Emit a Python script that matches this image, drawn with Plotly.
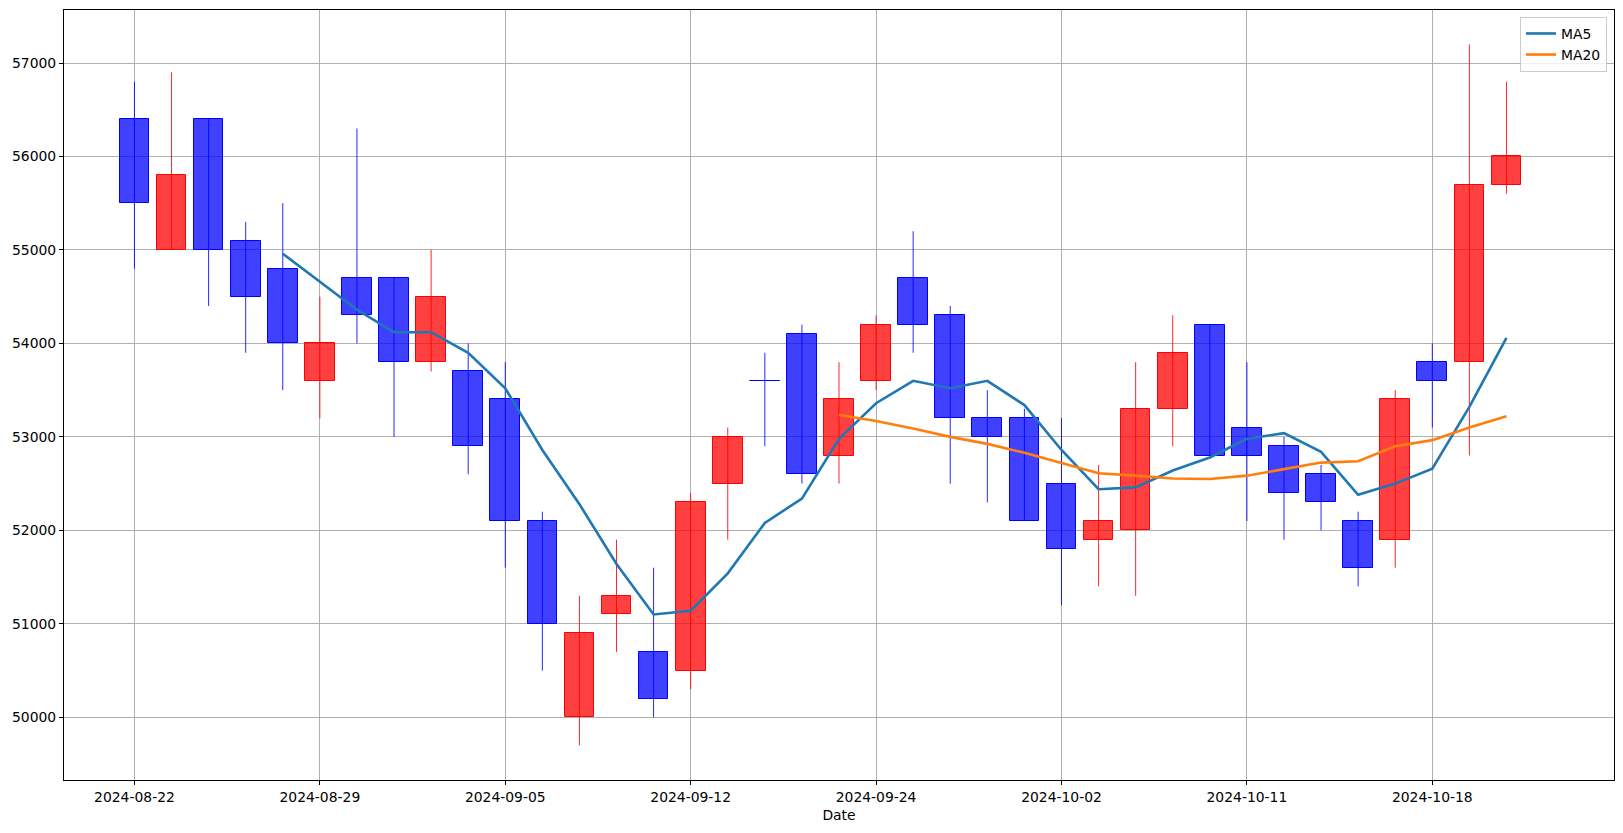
import plotly.graph_objects as go
import pandas as pd

dates = ["2024-08-22", "2024-08-23", "2024-08-26", "2024-08-27", "2024-08-28",
         "2024-08-29", "2024-08-30", "2024-09-02", "2024-09-03", "2024-09-04",
         "2024-09-05", "2024-09-06", "2024-09-09", "2024-09-10", "2024-09-11",
         "2024-09-12", "2024-09-13", "2024-09-19", "2024-09-20", "2024-09-23",
         "2024-09-24", "2024-09-25", "2024-09-26", "2024-09-27", "2024-09-30",
         "2024-10-02", "2024-10-04", "2024-10-07", "2024-10-08", "2024-10-10",
         "2024-10-11", "2024-10-14", "2024-10-15", "2024-10-16", "2024-10-17",
         "2024-10-18", "2024-10-21", "2024-10-22"]
opens = [56400, 55000, 56400, 55100, 54800, 53600, 54700, 54700, 53800, 53700,
         53400, 52100, 50000, 51100, 50700, 50500, 52500, 53600, 54100, 52800,
         53600, 54700, 54300, 53200, 53200, 52500, 51900, 52000, 53300, 54200,
         53100, 52900, 52600, 52100, 51900, 53800, 53800, 55700]
highs = [56800, 56900, 56400, 55300, 55500, 54500, 56300, 54700, 55000, 54000,
         53800, 52200, 51300, 51900, 51600, 52400, 53100, 53900, 54200, 53800,
         54300, 55200, 54400, 53500, 53300, 53200, 52700, 53800, 54300, 54200,
         53800, 53000, 52700, 52200, 53500, 54000, 57200, 56800]
lows = [54800, 55000, 54400, 53900, 53500, 53200, 54000, 53000, 53700, 52600,
        51600, 50500, 49700, 50700, 50000, 50300, 51900, 52900, 52500, 52500,
        53500, 53900, 52500, 52300, 52100, 51200, 51400, 51300, 52900, 52800,
        52100, 51900, 52000, 51400, 51600, 53100, 52800, 55600]
closes = [55500, 55800, 55000, 54500, 54000, 54000, 54300, 53800, 54500, 52900,
          52100, 51000, 50900, 51300, 50200, 52300, 53000, 53600, 52600, 53400,
          54200, 54200, 53200, 53000, 52100, 51800, 52100, 53300, 53900, 52800,
          52800, 52400, 52300, 51600, 53400, 53600, 55700, 56000]
x_ticks = dates[::5]

df = pd.DataFrame({"date": dates, "open": opens, "high": highs, "low": lows, "close": closes})
df["ma5"] = df["close"].rolling(5).mean()
df["ma20"] = df["close"].rolling(20).mean()

up = df[df["close"] > df["open"]]
down = df[df["close"] <= df["open"]]

fig = go.Figure()

def add_candles(d, fill, edge, wick):
    fig.add_trace(go.Bar(
        x=d["date"], y=(d["close"] - d["open"]).abs(), base=d[["open", "close"]].min(axis=1),
        width=0.8, marker=dict(color=fill, line=dict(color=edge, width=1)),
        showlegend=False, hoverinfo="skip"))

def add_wicks(d, wick):
    xs, ys = [], []
    for _, r in d.iterrows():
        xs += [r["date"], r["date"], None]
        ys += [r["low"], r["high"], None]
    fig.add_trace(go.Scatter(x=xs, y=ys, mode="lines", line=dict(color=wick, width=1),
                             showlegend=False, hoverinfo="skip", connectgaps=False))

add_candles(up, "rgba(255,0,0,0.75)", "rgb(255,0,0)", None)
add_candles(down, "rgba(0,0,255,0.75)", "rgb(0,0,255)", None)
add_wicks(up, "rgba(255,0,0,0.85)")
add_wicks(down, "rgba(0,0,255,0.85)")

fig.add_trace(go.Scatter(x=df["date"], y=df["ma5"], mode="lines", name="MA5",
                         line=dict(color="#1f77b4", width=2.6)))
fig.add_trace(go.Scatter(x=df["date"], y=df["ma20"], mode="lines", name="MA20",
                         line=dict(color="#ff7f0e", width=2.6)))

font = dict(family="DejaVu Sans", size=13.9, color="black")
fig.update_layout(
    width=1623, height=833,
    margin=dict(l=64, r=9, t=10, b=53),
    paper_bgcolor="white", plot_bgcolor="white",
    font=font, barmode="overlay", bargap=0,
    legend=dict(x=0.9955, y=0.991, xanchor="right", yanchor="top",
                bgcolor="rgba(255,255,255,0.8)", bordercolor="#cccccc", borderwidth=1,
                font=font, tracegroupgap=2),
    xaxis=dict(type="category", categoryorder="array", categoryarray=dates,
               range=[-1.9, 39.9], tickmode="array", tickvals=x_ticks, ticktext=x_ticks,
               showgrid=True, gridcolor="#b0b0b0", gridwidth=1,
               showline=True, linecolor="black", linewidth=1, mirror=True,
               ticks="outside", ticklen=4, tickcolor="black", zeroline=False,
               title=dict(text="Date", font=font, standoff=6)),
    yaxis=dict(range=[49329, 57567], dtick=1000, tickformat="d",
               showgrid=True, gridcolor="#b0b0b0", gridwidth=1,
               showline=True, linecolor="black", linewidth=1, mirror=True,
               ticks="outside", ticklen=4, tickcolor="black", zeroline=False),
)

fig.write_html("out.html", config={"displayModeBar": False})
